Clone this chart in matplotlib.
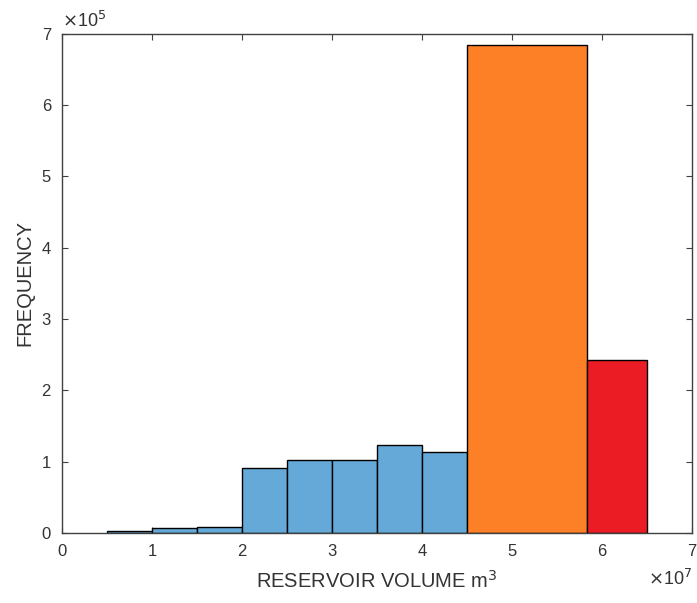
import matplotlib
matplotlib.use('Agg')
import matplotlib.pyplot as plt
import numpy as np
from matplotlib.ticker import FuncFormatter

plt.rcParams['font.family'] = ['Liberation Sans', 'DejaVu Sans']

# bin edges (m^3) and counts
blue_edges = [0.5e7, 1.0e7, 1.5e7, 2.0e7, 2.5e7, 3.0e7, 3.5e7, 4.0e7, 4.5e7]
blue_counts = [3000, 7500, 9000, 91000, 102000, 102000, 123000, 113000]
orange_edges = [4.5e7, 5.83e7]
orange_counts = [684000]
red_edges = [5.83e7, 6.5e7]
red_counts = [242000]

axis_col = '#404040'
txt_col = '#333333'
fig = plt.figure(figsize=(6.97, 6.03), dpi=100)
ax = fig.add_axes([0.089, 0.116, 0.904, 0.828])

for edges, counts, col in [(blue_edges, blue_counts, '#64a9d7'),
                           (orange_edges, orange_counts, '#fe8026'),
                           (red_edges, red_counts, '#ec1c24')]:
    e = np.array(edges)
    ax.bar(e[:-1], counts, width=np.diff(e), align='edge', color=col,
           edgecolor='black', linewidth=1.0, zorder=2)

ax.set_xlim(0, 7e7)
ax.set_ylim(0, 7e5)
ax.set_xticks(np.arange(0, 8) * 1e7)
ax.set_yticks(np.arange(0, 8) * 1e5)
ax.xaxis.set_major_formatter(FuncFormatter(lambda v, p: '%d' % round(v / 1e7)))
ax.yaxis.set_major_formatter(FuncFormatter(lambda v, p: '%d' % round(v / 1e5)))
ax.tick_params(direction='in', top=True, right=True, length=4, width=0.8,
               colors=axis_col, labelsize=12, labelcolor=txt_col, pad=8)
for s in ax.spines.values():
    s.set_color(axis_col)
    s.set_linewidth(1.0)

ax.set_xlabel('RESERVOIR VOLUME m$^3$', fontsize=14.5, color=txt_col, labelpad=8)
ax.set_ylabel('FREQUENCY', fontsize=14.5, color=txt_col, labelpad=5)
ax.text(0.0, 1.005, r'$\times$10$^5$', transform=ax.transAxes, fontsize=13,
        color=txt_col, ha='left', va='bottom')
ax.text(1.0, -0.072, r'$\times$10$^7$', transform=ax.transAxes, fontsize=13,
        color=txt_col, ha='right', va='top')

plt.savefig('out.png', dpi=100)
